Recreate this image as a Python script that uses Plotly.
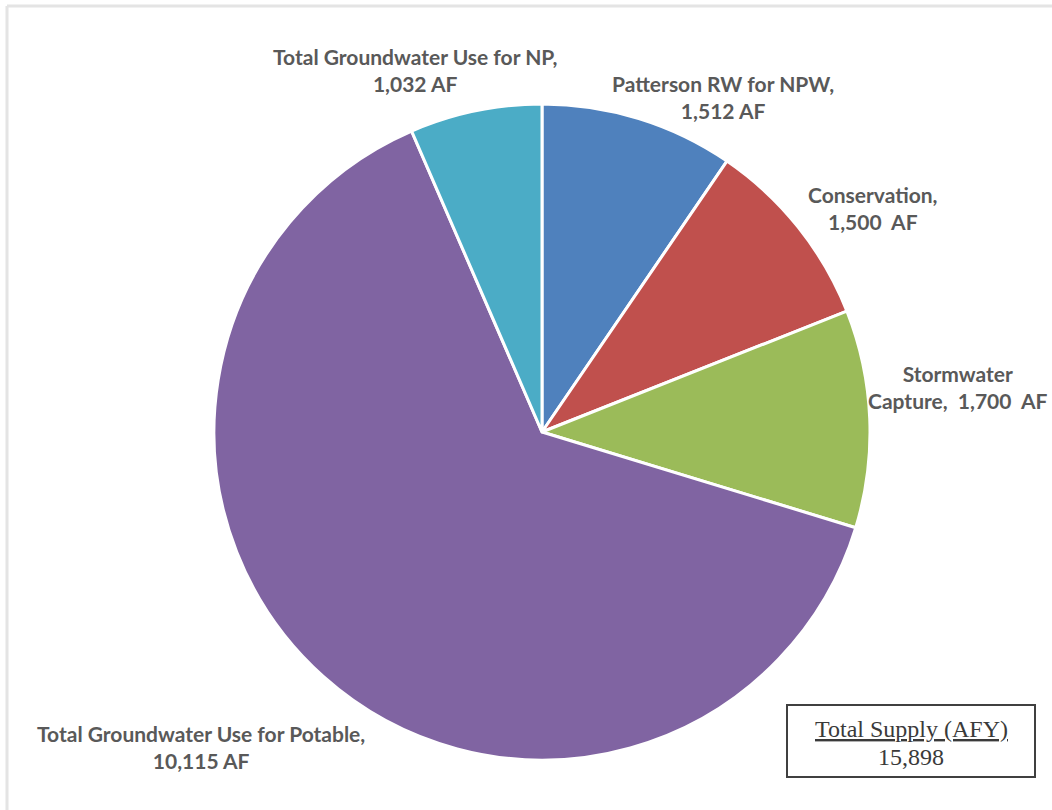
import plotly.graph_objects as go

categories = ["Patterson RW for NPW", "Conservation", "Stormwater Capture",
              "Total Groundwater Use for Potable", "Total Groundwater Use for NP"]
values = [1512, 1500, 1700, 10115, 1032]
colors = ["#4F81BD", "#C0504D", "#9BBB59", "#8064A2", "#4BACC6"]
label_texts = ["Patterson RW for NPW,<br>1,512 AF",
               "Conservation,<br>1,500  AF",
               "Stormwater<br>Capture,  1,700  AF",
               "Total Groundwater Use for Potable,<br>10,115 AF",
               "Total Groundwater Use for NP,<br>1,032 AF"]
label_pos = [(723, 97), (873, 208), (958, 387), (201, 747), (415, 70)]
total_title = "Total Supply (AFY)"
total_value = "15,898"

W, H = 1052, 810
cx, cy, r = 542, 432, 328

fig = go.Figure(go.Pie(
    labels=categories, values=values, sort=False, direction="clockwise",
    rotation=0, textinfo="none", hole=0,
    marker=dict(colors=colors, line=dict(color="white", width=3)),
    domain=dict(x=[(cx - r) / W, (cx + r) / W], y=[(H - cy - r) / H, (H - cy + r) / H]),
    showlegend=False,
))

for t, (x, y) in zip(label_texts, label_pos):
    fig.add_annotation(x=x / W, y=1 - y / H, xref="paper", yref="paper",
                       text="<b>" + t.replace("<br>", "</b><br><b>") + "</b>",
                       showarrow=False, xanchor="center", yanchor="middle",
                       font=dict(family="Lato", size=21, color="#595959"),
                       align="center")

# frame lines
fig.add_shape(type="line", xref="paper", yref="paper", x0=7 / W, x1=1, y0=1 - 6 / H, y1=1 - 6 / H,
              line=dict(color="#E4E4E4", width=3))
fig.add_shape(type="line", xref="paper", yref="paper", x0=7 / W, x1=7 / W, y0=0, y1=1 - 6 / H,
              line=dict(color="#E4E4E4", width=3))

# total box
fig.add_shape(type="rect", xref="paper", yref="paper", x0=787 / W, x1=1035 / W,
              y0=1 - 777 / H, y1=1 - 705 / H, line=dict(color="#404040", width=2),
              fillcolor="white")
fig.add_annotation(x=911 / W, y=1 - 729 / H, xref="paper", yref="paper",
                   text="<u>" + total_title + "</u>", showarrow=False,
                   xanchor="center", yanchor="middle",
                   font=dict(family="Liberation Serif", size=24, color="#3A3A3A"))
fig.add_annotation(x=911 / W, y=1 - 757 / H, xref="paper", yref="paper",
                   text=total_value, showarrow=False,
                   xanchor="center", yanchor="middle",
                   font=dict(family="Liberation Serif", size=24, color="#3A3A3A"))

fig.update_layout(width=W, height=H, margin=dict(l=0, r=0, t=0, b=0),
                  paper_bgcolor="white", plot_bgcolor="white")
fig.write_html("out.html", config={"displayModeBar": False},
               post_script="document.body.style.margin='0';")
